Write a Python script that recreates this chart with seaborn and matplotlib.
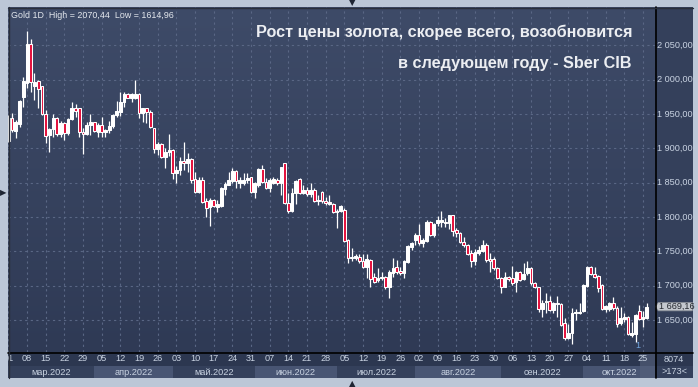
import numpy as np
import pandas as pd
import seaborn as sns
import matplotlib.pyplot as plt
from matplotlib.patches import Rectangle, Polygon

# daily OHLC, Gold 1D, 01.03.2022 - 26.10.2022
opens = [1911.0, 1944.6, 1925.2, 1935.9, 1974.7, 1994.7, 2051.5, 1991.3, 1998.1, 1990.8,
         1949.5, 1919.4, 1928.1, 1943.7, 1920.8, 1936.4, 1921.8, 1942.7, 1958.2, 1958.2,
         1923.2, 1920.3, 1933.9, 1937.8, 1924.2, 1933.9, 1923.2, 1926.6, 1932.5, 1948.5,
         1953.4, 1967.0, 1978.6, 1973.8, 1972.8, 1978.6, 1951.0, 1958.2, 1952.4, 1929.1,
         1899.0, 1905.7, 1887.8, 1894.1, 1897.5, 1863.5, 1868.4, 1881.5, 1878.0, 1883.9,
         1854.8, 1836.8, 1853.8, 1823.2, 1814.0, 1824.7, 1814.9, 1815.9, 1840.7, 1846.5,
         1852.4, 1866.9, 1849.9, 1849.9, 1853.8, 1857.7, 1836.8, 1846.5, 1869.4, 1851.4,
         1841.7, 1849.9, 1853.8, 1849.0, 1878.1, 1820.8, 1809.1, 1834.4, 1854.8, 1834.4,
         1839.2, 1832.9, 1839.2, 1822.7, 1836.8, 1823.7, 1818.8, 1818.8, 1807.2, 1809.1,
         1810.1, 1766.4, 1739.6, 1740.6, 1742.1, 1736.2, 1726.5, 1737.2, 1711.9, 1708.0,
         1710.5, 1712.9, 1697.4, 1718.7, 1727.5, 1721.2, 1717.8, 1734.8, 1756.6, 1766.3,
         1773.6, 1761.4, 1765.3, 1793.0, 1773.6, 1790.6, 1793.0, 1793.0, 1790.6, 1802.7,
         1780.9, 1776.0, 1763.9, 1759.0, 1746.9, 1736.2, 1746.9, 1750.7, 1759.0, 1738.6,
         1738.1, 1725.0, 1711.4, 1698.3, 1711.9, 1710.4, 1705.6, 1719.6, 1709.0, 1717.7,
         1725.0, 1703.1, 1697.3, 1665.2, 1675.9, 1677.9, 1664.3, 1674.0, 1672.5, 1644.8,
         1623.0, 1630.2, 1659.4, 1659.4, 1663.3, 1699.2, 1726.4, 1716.7, 1713.8, 1700.7,
         1665.2, 1665.2, 1674.0, 1666.7, 1645.8, 1650.6, 1654.5, 1627.8, 1629.3, 1662.8,
         1650.6, 1652.1]
highs = [1948.5, 1950.9, 1941.2, 1970.4, 2004.4, 2070.44, 2059.3, 2009.2, 1999.5, 1990.8,
         1955.8, 1930.0, 1949.5, 1946.1, 1939.8, 1938.8, 1944.6, 1967.9, 1964.1, 1959.2,
         1929.1, 1938.8, 1949.5, 1938.8, 1936.4, 1946.1, 1928.1, 1939.8, 1949.5, 1968.9,
         1982.5, 1982.5, 1980.1, 1980.1, 1999.5, 1980.1, 1958.2, 1958.2, 1955.8, 1929.1,
         1909.6, 1907.2, 1899.9, 1920.3, 1899.0, 1874.0, 1887.8, 1909.7, 1892.7, 1885.3,
         1866.0, 1858.7, 1858.7, 1827.1, 1827.1, 1825.6, 1824.7, 1843.1, 1851.4, 1866.0,
         1870.8, 1868.4, 1858.7, 1863.5, 1864.5, 1858.7, 1851.4, 1870.8, 1875.7, 1856.2,
         1856.2, 1858.7, 1856.2, 1873.3, 1879.1, 1834.4, 1841.7, 1853.8, 1856.2, 1846.5,
         1843.1, 1849.9, 1841.7, 1831.9, 1837.8, 1829.5, 1831.9, 1820.8, 1811.1, 1817.4,
         1812.5, 1767.3, 1754.2, 1745.9, 1745.9, 1745.9, 1745.9, 1738.2, 1717.8, 1725.1,
         1720.2, 1713.9, 1722.6, 1739.6, 1737.2, 1727.5, 1737.2, 1759.1, 1763.9, 1776.0,
         1789.6, 1768.7, 1795.4, 1794.5, 1791.6, 1801.3, 1808.6, 1797.9, 1802.7, 1802.7,
         1783.3, 1778.4, 1770.2, 1760.0, 1751.7, 1752.7, 1757.5, 1766.3, 1761.4, 1746.9,
         1742.0, 1727.4, 1712.8, 1720.1, 1713.8, 1728.4, 1721.6, 1720.6, 1732.3, 1735.7,
         1727.4, 1705.6, 1698.3, 1678.8, 1688.5, 1684.7, 1676.4, 1684.7, 1674.0, 1652.1,
         1643.8, 1666.7, 1665.2, 1674.9, 1702.2, 1728.4, 1728.4, 1726.4, 1715.3, 1702.2,
         1671.5, 1676.4, 1682.7, 1670.1, 1669.1, 1659.4, 1655.5, 1647.2, 1658.4, 1671.5,
         1662.8, 1674.9]
lows = [1909.6, 1924.2, 1914.5, 1931.5, 1960.6, 1987.4, 1982.5, 1970.4, 1958.2, 1948.5,
        1907.2, 1895.1, 1917.0, 1918.4, 1916.9, 1912.1, 1919.4, 1941.2, 1946.1, 1916.9,
        1891.2, 1919.4, 1919.4, 1924.2, 1916.9, 1916.9, 1916.9, 1921.8, 1929.1, 1946.1,
        1947.5, 1960.6, 1972.8, 1967.9, 1971.8, 1943.7, 1938.8, 1936.4, 1929.1, 1892.6,
        1890.2, 1885.3, 1872.0, 1889.0, 1854.8, 1850.0, 1861.0, 1868.4, 1866.0, 1850.0,
        1834.4, 1834.4, 1820.8, 1799.4, 1787.2, 1814.9, 1807.7, 1814.9, 1831.9, 1846.5,
        1849.0, 1841.7, 1841.7, 1846.5, 1849.0, 1835.4, 1828.1, 1844.1, 1849.0, 1840.2,
        1836.8, 1848.0, 1846.5, 1831.9, 1818.8, 1806.2, 1807.7, 1818.8, 1832.9, 1832.9,
        1830.5, 1829.5, 1822.2, 1817.4, 1820.8, 1817.4, 1817.4, 1806.2, 1784.3, 1807.7,
        1763.9, 1732.3, 1735.7, 1737.2, 1732.3, 1725.1, 1710.5, 1698.3, 1704.2, 1705.6,
        1708.0, 1694.4, 1681.3, 1713.0, 1716.8, 1715.3, 1710.5, 1733.3, 1751.8, 1759.0,
        1759.0, 1755.6, 1763.9, 1772.1, 1771.2, 1786.7, 1785.7, 1784.8, 1781.8, 1772.1,
        1771.2, 1761.4, 1756.6, 1744.4, 1727.4, 1729.8, 1744.4, 1749.3, 1734.7, 1720.1,
        1722.6, 1709.9, 1689.5, 1697.3, 1707.0, 1700.7, 1691.0, 1707.0, 1708.0, 1715.3,
        1700.7, 1695.8, 1661.8, 1654.5, 1660.4, 1663.3, 1659.4, 1654.5, 1640.9, 1620.5,
        1621.5, 1614.96, 1649.7, 1658.4, 1661.8, 1697.3, 1715.3, 1710.4, 1691.0, 1664.3,
        1661.8, 1663.3, 1664.3, 1640.0, 1642.4, 1647.2, 1627.8, 1624.4, 1618.1, 1649.7,
        1639.0, 1650.6]
closes = [1944.0, 1926.6, 1937.8, 1968.9, 1998.1, 2051.5, 1996.1, 1997.1, 1986.4, 1950.0,
          1918.4, 1928.1, 1943.7, 1920.3, 1936.4, 1921.8, 1942.7, 1958.2, 1954.8, 1923.2,
          1920.3, 1933.9, 1938.3, 1925.2, 1933.9, 1923.2, 1926.1, 1932.5, 1948.5, 1954.3,
          1967.9, 1979.1, 1973.8, 1978.6, 1978.6, 1951.0, 1958.2, 1952.4, 1931.5, 1899.0,
          1905.7, 1887.8, 1895.1, 1897.5, 1863.5, 1868.4, 1881.5, 1878.0, 1883.9, 1853.8,
          1836.8, 1853.8, 1822.2, 1812.5, 1824.7, 1815.9, 1818.8, 1841.7, 1848.0, 1853.8,
          1866.9, 1852.8, 1853.8, 1853.8, 1856.2, 1836.8, 1849.0, 1869.4, 1851.4, 1841.7,
          1853.8, 1854.8, 1849.0, 1872.3, 1820.8, 1809.1, 1834.4, 1852.8, 1834.4, 1839.2,
          1832.9, 1839.2, 1823.2, 1824.7, 1823.2, 1819.8, 1822.2, 1807.7, 1809.1, 1816.4,
          1765.4, 1739.6, 1742.1, 1743.0, 1735.7, 1726.5, 1738.2, 1709.5, 1705.6, 1711.4,
          1712.9, 1697.4, 1720.2, 1726.0, 1720.2, 1717.8, 1735.7, 1757.6, 1761.5, 1773.6,
          1761.4, 1766.3, 1793.0, 1773.6, 1789.6, 1795.4, 1795.4, 1790.6, 1802.7, 1779.9,
          1776.0, 1762.9, 1759.0, 1745.9, 1736.2, 1749.3, 1751.7, 1759.0, 1737.1, 1735.7,
          1725.0, 1711.4, 1698.3, 1711.9, 1709.0, 1703.1, 1719.6, 1708.0, 1716.7, 1725.0,
          1703.1, 1697.3, 1665.2, 1674.0, 1677.9, 1664.3, 1674.0, 1672.5, 1642.4, 1623.0,
          1630.2, 1660.4, 1661.8, 1661.8, 1700.7, 1726.4, 1716.7, 1712.8, 1695.8, 1665.2,
          1670.1, 1674.9, 1666.7, 1643.8, 1652.1, 1654.5, 1629.3, 1631.2, 1657.0, 1650.6,
          1654.5, 1669.16]

day_labels = ["01", "08", "15", "22", "29", "05", "12", "19", "26", "03", "10", "17",
              "24", "31", "07", "14", "21", "28", "05", "12", "19", "26", "02", "09",
              "16", "23", "30", "06", "13", "20", "27", "04", "11", "18", "25"]
month_labels = ["мар.2022", "апр.2022", "май.2022", "июн.2022", "июл.2022",
                "авг.2022", "сен.2022", "окт.2022"]
month_days = [23, 21, 22, 22, 21, 23, 22, 18]
price_ticks = [1650, 1700, 1750, 1800, 1850, 1900, 1950, 2000, 2050]

headline = ["Рост цены золота, скорее всего, возобновится",
            "в следующем году - Sber CIB"]
info = "Gold 1D  High = 2070,44  Low = 1614,96"

df = pd.DataFrame({"open": opens, "high": highs, "low": lows, "close": closes})
df["x"] = np.arange(len(df))
df["up"] = df["close"] >= df["open"]

sns.set_theme(style="dark")
plt.rcParams["font.family"] = ["Liberation Sans", "DejaVu Sans"]

W, H = 698, 387
fig = plt.figure(figsize=(W / 100, H / 100), dpi=100, facecolor="#bcc7d7")

def fx(px):
    return px / W

def fy(py):
    return 1 - py / H

# dark chart body (plot + right scale + bottom scale), behind the axes
fig.patches.append(Rectangle((fx(8), fy(378)), fx(685), 371 / H, transform=fig.transFigure,
                             facecolor="#34405b", edgecolor="none", zorder=-2))
fig.patches.append(Rectangle((fx(8), fy(366)), fx(685), 14 / H, transform=fig.transFigure,
                             facecolor="#2c3750", edgecolor="none", zorder=-1))

ax = fig.add_axes([fx(8), fy(352), fx(647), 345 / H])
ax.set_facecolor("none")
xmin, xmax = -0.09, 173.2
ymin, ymax = 1603.1, 2106.0

# vertical gradient background
grad = np.linspace(1, 0, 256).reshape(-1, 1)
cmap = sns.blend_palette(["#2f3a55", "#3e4b68"], as_cmap=True)
ax.imshow(grad, aspect="auto", cmap=cmap, extent=(xmin, xmax, ymin, ymax), zorder=0,
          interpolation="bicubic")

ax.set_xlim(xmin, xmax)
ax.set_ylim(ymin, ymax)

# grid
grid_kw = dict(color="#5a6785", lw=0.8, ls=(0, (2, 3)), zorder=1)
for p in price_ticks:
    ax.axhline(p, **grid_kw)
week_pos = np.arange(0, len(df), 5)
for xp in week_pos:
    ax.axvline(xp, **grid_kw)

# candles
ax.vlines(df["x"], df["low"], df["high"], color="white", lw=0.9, zorder=3)
body_lo = df[["open", "close"]].min(axis=1)
body_h = (df["close"] - df["open"]).abs().clip(lower=1.3)
fill = np.where(df["up"], "white", "#e4103c")
ax.bar(df["x"], body_h, bottom=body_lo, width=0.74, color=fill, edgecolor="white",
       linewidth=0.75, zorder=4)

ax.set_xticks([])
ax.set_yticks([])
for s in ax.spines.values():
    s.set_visible(False)

# current bar marker
ax.text(168.6, 1606, "1", color="#6fa3dc", fontsize=6.5, ha="center", va="bottom")

# frame lines
fig.add_artist(plt.Line2D([fx(8), fx(693)], [fy(352.5)] * 2, color="black", lw=1.2))
fig.add_artist(plt.Line2D([fx(655.5)] * 2, [fy(7), fy(378)], color="black", lw=1.2))
fig.add_artist(plt.Line2D([fx(8), fx(693)], [fy(7.5)] * 2, color="#2a2f3a", lw=1))
fig.add_artist(plt.Line2D([fx(8.5)] * 2, [fy(7), fy(378)], color="#2a2f3a", lw=1))

# price scale
for p in price_ticks:
    ax.text(xmax + 0.6, p, f"{p // 1000} {p % 1000:03d},00", color="#c9d3e2",
            fontsize=6.6, va="center", ha="left", clip_on=False)

last = closes[-1]
ax.add_patch(Polygon([[xmax + 0.1, last], [xmax + 0.9, last + 6], [xmax + 10.0, last + 6],
                      [xmax + 10.0, last - 6], [xmax + 0.9, last - 6]], closed=True,
                     facecolor="#c4c8ce", edgecolor="#8a8f98", lw=0.6, clip_on=False,
                     zorder=5))
ax.text(xmax + 1.0, last, "1 669,16", color="#23272e", fontsize=6.6, va="center",
        ha="left", clip_on=False, zorder=6)

# date labels and month bands
axb = fig.add_axes([fx(8), fy(378), fx(647), 26 / H])
axb.set_xlim(xmin, xmax)
axb.set_ylim(0, 1)
axb.axis("off")
start = 0
for k, (lab, n) in enumerate(zip(month_labels, month_days)):
    end = start + n if k < len(month_days) - 1 else xmax
    if k % 2 == 1:
        axb.axvspan(start, end, ymin=0, ymax=12 / 26, color="#485573", lw=0)
    axb.text((start + end) / 2, 0.23, lab, color="#c9d3e2", fontsize=6.6,
             ha="center", va="center")
    start += n
for xp, lab in zip(week_pos, day_labels):
    axb.text(xp, 0.74, lab, color="#c9d3e2", fontsize=6.6, ha="center", va="center",
             clip_on=True)
axb.axvspan(169.2, xmax, ymin=0, ymax=1, color="#56627c", alpha=0.6, lw=0)

# corner counters
fig.text(fx(674), fy(359.5), "8074", color="#c9d3e2", fontsize=6.6, ha="center", va="center")
fig.text(fx(674), fy(372), ">173<", color="#c9d3e2", fontsize=6.6, ha="center", va="center")

# texts on the chart
fig.text(fx(11), fy(15), info, color="#e4e8ee", fontsize=6.4, ha="left", va="center")
fig.text(fx(632), fy(36.7), headline[0], color="#eceef2", fontsize=11.7,
         fontweight="bold", ha="right", va="baseline")
fig.text(fx(632), fy(68.3), headline[1], color="#eceef2", fontsize=11.7,
         fontweight="bold", ha="right", va="baseline")

# little arrows on the frame
fig.text(fx(352), fy(3), "▼", color="#1e2533", fontsize=6, ha="center", va="center",
         family="DejaVu Sans")
fig.text(fx(352), fy(384), "▲", color="#1e2533", fontsize=6, ha="center", va="center",
         family="DejaVu Sans")
fig.text(fx(3.5), fy(193), "▶", color="#1e2533", fontsize=6, ha="center", va="center",
         family="DejaVu Sans")

fig.savefig("out.png", dpi=100, facecolor=fig.get_facecolor())
